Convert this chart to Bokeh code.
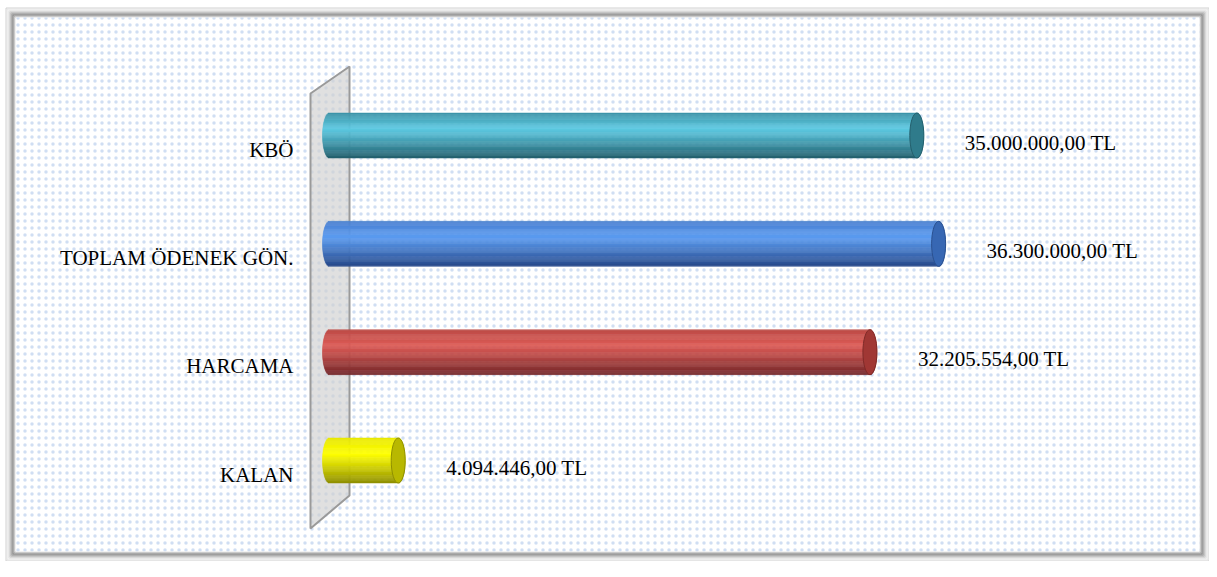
import math
from bokeh.plotting import figure
from bokeh.models import Range1d, ColumnDataSource
from bokeh.core.properties import value
from bokeh.embed import file_html
from bokeh.resources import INLINE

# ---------------- data ----------------
categories = ["KBÖ", "TOPLAM ÖDENEK GÖN.", "HARCAMA", "KALAN"]
amounts = [35000000.00, 36300000.00, 32205554.00, 4094446.00]
value_labels = ["35.000.000,00 TL", "36.300.000,00 TL", "32.205.554,00 TL", "4.094.446,00 TL"]

# ---------------- styles ----------------
body_top = ["#3d93a6", "#4a7fd0", "#bc4b47", "#e8e800"]
body_light = ["#5cc9e2", "#5c9cf0", "#dc5b56", "#ffff00"]
body_bottom = ["#235f6d", "#27498a", "#74282a", "#8f8f00"]
cap_fill = ["#2f7b8b", "#3767b3", "#a03734", "#b8b800"]
cap_line = ["#245f6c", "#2b5190", "#7f2a28", "#8f8f00"]

W, H = 1209, 561
X0_PX = 329.0          # pixel of zero amount
PX_PER_M = 16.78       # pixels per million TL
Y1_PX = 460.0          # pixel of lowest bar centre
ROW_PX = 108.33        # pixels between bar centres
BAR_PX = 45.0
CAP_A_PX = 7.0


def xd(px):
    return (px - X0_PX) / PX_PER_M * 1e6


def yd(py):
    return 1 + (Y1_PX - py) / ROW_PX


p = figure(width=W, height=H, output_backend="svg", toolbar_location=None,
           x_range=Range1d(xd(0), xd(W)), y_range=Range1d(yd(H), yd(0)),
           min_border=0)
p.axis.visible = False
p.xgrid.visible = False
p.ygrid.visible = False
p.outline_line_color = None
p.background_fill_color = "white"
p.border_fill_color = "white"

# frame (bevel)
FX0, FY0, FX1, FY1 = 5, 7, W, H
frame_cols = ["#d0d0d0", "#e2e2e2", "#ececec", "#dcdcdc", "#c4c4c4",
              "#a8a8a8", "#8c8c8c", "#767676", "#9a9a9a", "#c8c8c8"]
for i, c in enumerate(frame_cols):
    p.quad(left=[xd(FX0 + i + 0.5)], right=[xd(FX1 - i - 0.5)], top=[yd(FY0 + i + 0.5)],
           bottom=[yd(FY1 - i - 0.5)], fill_color=None, line_color=c, line_width=1)

# dotted background
ni = len(frame_cols)
p.quad(left=[xd(FX0 + ni)], right=[xd(FX1 - ni)], top=[yd(FY0 + ni)], bottom=[yd(FY1 - ni)],
       fill_color="white", line_color=None, hatch_pattern="dot",
       hatch_color="#a9c3ea", hatch_scale=7, hatch_alpha=0.55)

# wall
p.patch(x=[xd(310), xd(349), xd(349), xd(310)],
        y=[yd(93), yd(66), yd(495), yd(528)],
        fill_color="#cfcfcf", fill_alpha=0.65, line_color="#9a9a9a", line_width=2)

# cylinders
n = len(categories)
ys = [n - i for i in range(n)]
hh = BAR_PX / 2 / ROW_PX
a_data = CAP_A_PX / PX_PER_M * 1e6


def hex2rgb(h):
    h = h.lstrip("#")
    return [int(h[k:k + 2], 16) for k in (0, 2, 4)]


def mix(c1, c2, f):
    a, b = hex2rgb(c1), hex2rgb(c2)
    return "#%02x%02x%02x" % tuple(int(round(a[k] + (b[k] - a[k]) * f)) for k in range(3))


N = 40
L, R, T, B, C = [], [], [], [], []
for j in range(n):
    for i in range(N):
        t0 = -1 + 2 * i / N
        t1 = -1 + 2 * (i + 1) / N
        tm = (t0 + t1) / 2
        s = math.sqrt(max(0.0, 1 - tm * tm))
        L.append(-a_data * s)
        R.append(amounts[j] + a_data * s)
        T.append(ys[j] - t0 * hh)
        B.append(ys[j] - t1 * hh)
        if tm < -0.3:
            f = (tm + 1) / 0.7
            C.append(mix(body_top[j], body_light[j], f))
        else:
            f = (tm + 0.3) / 1.3
            C.append(mix(body_light[j], body_bottom[j], f ** 1.1))
p.quad(source=ColumnDataSource(dict(left=L, right=R, top=T, bottom=B, color=C)),
       left="left", right="right", top="top", bottom="bottom",
       fill_color="color", line_color="color", line_width=0.5)

p.ellipse(x=amounts, y=ys, width=2 * a_data, height=2 * hh,
          fill_color=cap_fill, line_color=cap_line, line_width=1)

# value labels
p.text(x=amounts, y=ys, text=value_labels, x_offset=48, y_offset=7,
       text_align="left", text_baseline="middle",
       text_font=value("Liberation Serif"), text_font_size="21px", text_color="black")

# category labels
p.text(x=[0] * n, y=ys, text=categories, x_offset=-36, y_offset=14,
       text_align="right", text_baseline="middle",
       text_font=value("Liberation Serif"), text_font_size="21px", text_color="black")

open("out.html", "w").write(file_html(p, INLINE))
